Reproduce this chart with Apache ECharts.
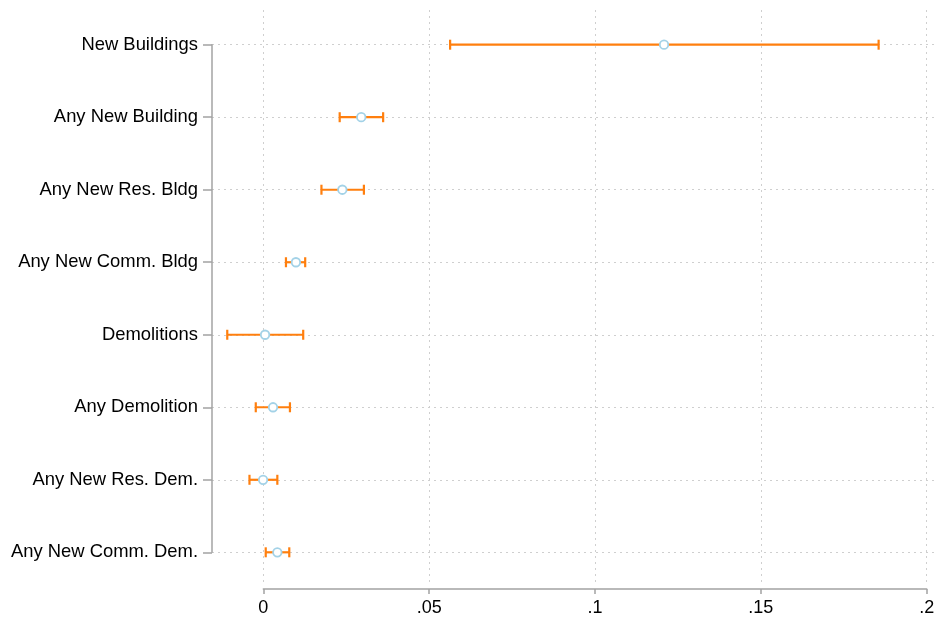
<!DOCTYPE html>
<html>
<head>
<meta charset="utf-8">
<script src="https://cdn.jsdelivr.net/npm/echarts@6/dist/echarts.min.js"></script>
<style>
  html, body { margin: 0; padding: 0; background: #ffffff; }
  #chart { width: 938px; height: 619px; }
</style>
</head>
<body>
<div id="chart"></div>
<script>
// Outcomes, top to bottom
const categories = [
  'New Buildings',
  'Any New Building',
  'Any New Res. Bldg',
  'Any New Comm. Bldg',
  'Demolitions',
  'Any Demolition',
  'Any New Res. Dem.',
  'Any New Comm. Dem.'
];
// Point estimates and confidence bounds
const estimates = [0.1208, 0.0295, 0.0238, 0.0098, 0.0005, 0.0029, -0.0001, 0.0042];
const lowerCI   = [0.0563, 0.0230, 0.0175, 0.0068, -0.0109, -0.0023, -0.0042, 0.0007];
const upperCI   = [0.1855, 0.0361, 0.0303, 0.0126, 0.0120, 0.0080, 0.0042, 0.0078];
// Horizontal axis ticks
const xTickValues = [0, 0.05, 0.1, 0.15, 0.2];
const xTickLabels = ['0', '.05', '.1', '.15', '.2'];

const FONT = '"Liberation Sans", Helvetica, Arial, sans-serif';
const AXIS_GREY = '#a3a3a3';
const GRID_GREY = '#cfcfcf';
const BAR_ORANGE = '#ff7f0e';
const RING_BLUE = '#a3d2e7';

const chart = echarts.init(document.getElementById('chart'), null, { renderer: 'canvas' });

const ciData = categories.map((c, i) => [lowerCI[i], upperCI[i], i]);
const pointData = categories.map((c, i) => [estimates[i], i]);

const option = {
  backgroundColor: '#ffffff',
  animation: false,
  grid: [
    // plotting region with the outcome axis
    { left: 212, right: 3, top: 44.7, bottom: 66.7, containLabel: false },
    // coefficient axis, spanning 0 to .2
    { left: 263.3, right: 11.3, top: 10, bottom: 36, containLabel: false }
  ],
  xAxis: [
    {
      gridIndex: 0, type: 'value', min: -0.0155, max: 0.2025,
      show: false
    },
    {
      gridIndex: 1, type: 'value', min: 0, max: 0.2, interval: 0.05,
      position: 'bottom', offset: 6,
      axisLine: { show: true, onZero: false, lineStyle: { color: AXIS_GREY, width: 1.5 } },
      axisTick: { show: true, length: 5, lineStyle: { color: AXIS_GREY, width: 1.5 } },
      axisLabel: {
        margin: 10, fontSize: 18, color: '#000', fontFamily: FONT,
        formatter: v => {
          const k = xTickValues.findIndex(t => Math.abs(t - v) < 1e-9);
          return k >= 0 ? xTickLabels[k] : '';
        }
      },
      splitLine: { show: true, lineStyle: { color: GRID_GREY, width: 1, type: [2, 4] } }
    }
  ],
  yAxis: [
    {
      gridIndex: 0, type: 'category', data: categories, inverse: true, boundaryGap: false,
      position: 'left',
      axisLine: { show: true, onZero: false, lineStyle: { color: AXIS_GREY, width: 1.5 } },
      axisTick: { show: true, length: 9, alignWithLabel: true, lineStyle: { color: AXIS_GREY, width: 1.5 } },
      axisLabel: { margin: 14, fontSize: 18.4, color: '#000', fontFamily: FONT, padding: [2, 0, 0, 0] },
      splitLine: { show: true, lineStyle: { color: GRID_GREY, width: 1, type: [2, 4] } }
    },
    { gridIndex: 1, type: 'value', show: false }
  ],
  series: [
    {
      type: 'custom',
      xAxisIndex: 0, yAxisIndex: 0,
      data: ciData,
      encode: { x: [0, 1], y: 2 },
      z: 3,
      renderItem: (params, api) => {
        const lo = api.coord([api.value(0), api.value(2)]);
        const hi = api.coord([api.value(1), api.value(2)]);
        const capH = 5;
        const style = { stroke: BAR_ORANGE, lineWidth: 2.2 };
        return {
          type: 'group',
          children: [
            { type: 'line', shape: { x1: lo[0], y1: lo[1], x2: hi[0], y2: hi[1] }, style },
            { type: 'line', shape: { x1: lo[0], y1: lo[1] - capH, x2: lo[0], y2: lo[1] + capH }, style },
            { type: 'line', shape: { x1: hi[0], y1: hi[1] - capH, x2: hi[0], y2: hi[1] + capH }, style }
          ]
        };
      }
    },
    {
      type: 'scatter',
      xAxisIndex: 0, yAxisIndex: 0,
      data: pointData,
      symbol: 'circle',
      symbolSize: 8.5,
      z: 4,
      itemStyle: { color: '#ffffff', borderColor: RING_BLUE, borderWidth: 1.8, opacity: 1 }
    }
  ]
};

chart.setOption(option);
</script>
</body>
</html>
